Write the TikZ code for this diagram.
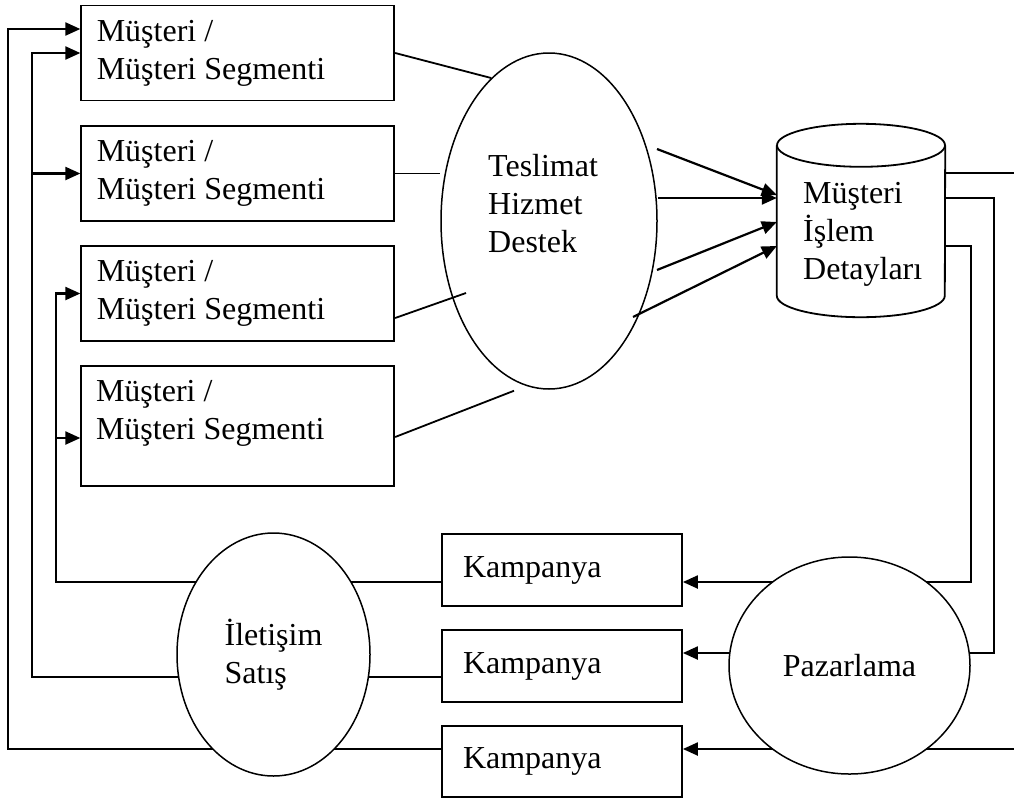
\documentclass[tikz,border=0pt]{standalone}
\usepackage{fontspec}
\setmainfont{Liberation Serif}
\usetikzlibrary{arrows.meta,calc,shapes.geometric}
\pgfdeclarelayer{bg}\pgfsetlayers{bg,main}
\begin{document}
\begin{tikzpicture}[x=1pt,y=-1pt,
  every node/.style={font=\fontsize{32pt}{38pt}\selectfont, inner sep=0pt},
  ln/.style={line width=1.8pt},
  arr/.style={line width=2.2pt,-{Triangle[length=15pt,width=13pt]}},
  mbox/.style={draw, line width=1.8pt, minimum width=313pt, minimum height=95pt, text width=282pt, inner xsep=15.5pt, align=flush left},
  kbox/.style={draw, line width=1.8pt, minimum width=240pt, minimum height=72pt, text width=198pt, inner xsep=21pt, align=flush left},
  oval/.style={draw, ellipse, line width=1.5pt, fill=white, align=left}]
\useasboundingbox (0,0) rectangle (1014,801);

% customer boxes
\node[mbox] (m1) at (237.75,53) {Müşteri /\\Müşteri Segmenti};
\node[mbox] (m2) at (237.75,173.5) {Müşteri /\\Müşteri Segmenti};
\node[mbox] (m3) at (237.75,293.5) {Müşteri /\\Müşteri Segmenti};
\node[mbox, minimum height=120pt] (m4) at (237.75,426) {};
\node[anchor=west, align=left] (m4t) at ($(m4.north west)+(15.5,48.5)$) {Müşteri /\\Müşteri Segmenti};

% delivery ellipse
\node[draw, ellipse, line width=1.5pt, minimum width=216pt, minimum height=336pt] (tes) at (549,221) {};
\node[anchor=west, align=left] (test) at (488,204) {Teslimat\\Hizmet\\Destek};

% database cylinder
\node[minimum width=168pt, minimum height=193pt] (db) at (861,220.5) {};
\node[anchor=west, align=left] (dbt) at (803,234) {Müşteri\\İşlem\\Detayları};
\draw[ln] ($(db.north west)+(0,21.5)$) -- ($(db.south west)+(0,-21.5)$)
  arc[start angle=180, end angle=360, x radius=84pt, y radius=21.5pt]
  -- ($(db.north east)+(0,21.5)$);
\draw[ln] ($(db.north)+(0,21.5)$) ellipse[x radius=84pt, y radius=21.5pt];

% lower ellipses and campaign boxes
\node[oval, minimum width=193pt, minimum height=243pt] (ilet) at (273.5,654.5) {İletişim\\Satış};
\node[oval, minimum width=241pt, minimum height=217pt] (paz) at (849.5,665.5) {Pazarlama};
\node[kbox] (k1) at (562,570) {Kampanya};
\node[kbox] (k2) at (562,666) {Kampanya};
\node[kbox, minimum height=71pt] (k3) at (562,761.5) {Kampanya};

\coordinate (e1) at (1014,173);
\coordinate (e3) at (1014,749);

% box to ellipse
\draw[ln] (m1.east) -- (tes.112);
\draw[ln] (m2.east) -- (m2.east -| tes.west);
\draw[ln] ($(m3.east)+(0,24.5)$) -- ($(tes.center)+(-83,72)$);
\draw[ln] ($(m4.east)+(0,11)$) -- ($(tes.south)+(-35,1)$);

% ellipse to database
\draw[arr] ($(tes.center)+(108,-72)$) -- ($(db.west)+(0,-25.5)$);
\draw[arr] ($(tes.center)+(109,-23)$) -- ($(db.west)+(0,-22.5)$);
\draw[arr] ($(tes.center)+(108,49)$) -- ($(db.west)+(0,1.5)$);
\draw[arr] ($(tes.center)+(84,96)$) -- ($(db.west)+(0,25.5)$);

\draw[ln] ($(db.east)+(0,-47.5)$) -- (e1);

\begin{pgfonlayer}{bg}
\draw[arr] ($(k3.west)+(0,-12.5)$) -| ($(m1.west)+(-72,-24)$) -- ($(m1.west)+(0,-24)$);
\draw[arr] ($(k2.west)+(0,11)$) -| ($(m1.west)+(-48,0)$) -- (m1.west);
\draw[arr] ($(m2.west)+(-48,0)$) -- (m2.west);
\draw[arr] ($(k1.west)+(0,12)$) -| ($(m3.west)+(-24,0)$) -- (m3.west);
\draw[arr] ($(m4.west)+(-24,12)$) -- ($(m4.west)+(0,12)$);

\draw[arr] ($(db.east)+(0,25.5)$) -| ($(k1.east)+(288,12)$) -- ($(k1.east)+(0,12)$);
\draw[arr] ($(db.east)+(0,-22.5)$) -| ($(k2.east)+(311,-13)$) -- ($(k2.east)+(0,-13)$);
\draw[arr] (e3) -- ($(k3.east)+(0,-12.5)$);
\end{pgfonlayer}
\end{tikzpicture}
\end{document}
